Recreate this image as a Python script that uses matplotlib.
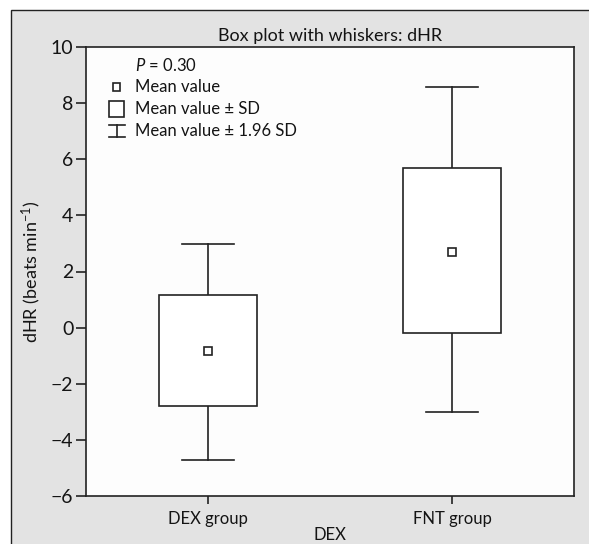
import numpy as np
import matplotlib
matplotlib.use("Agg")
import matplotlib.pyplot as plt
from matplotlib.patches import Rectangle

# data
groups = ["DEX group", "FNT group"]
means = [-0.82, 2.70]
sd_low = [-2.78, -0.18]
sd_high = [1.15, 5.70]
ci_low = [-4.70, -3.02]
ci_high = [2.97, 8.58]
y_ticks = [-6, -4, -2, 0, 2, 4, 6, 8, 10]
p_text = "0.30"

plt.rcParams['font.family'] = ['Lato', 'DejaVu Sans']
plt.rcParams['mathtext.fontset'] = 'custom'
plt.rcParams['mathtext.it'] = 'Lato:italic'
plt.rcParams['mathtext.rm'] = 'Lato'
LC = '#222222'
TC = '#141414'

fig = plt.figure(figsize=(5.89, 5.44), dpi=100)
fig.patch.set_facecolor('white')

# grey panel behind the plot
panel = Rectangle((11 / 589, -0.02), 1.0, 1 - 10 / 544 + 0.02, transform=fig.transFigure,
                  facecolor='#e3e3e3', edgecolor=LC, linewidth=1.0, zorder=-10)
fig.patches.append(panel)

ax = fig.add_axes([86 / 589, 48 / 544, (574 - 86) / 589, (496 - 47) / 544])
ax.set_facecolor('#fdfdfd')

pos = np.arange(1, len(groups) + 1)
box_w = 0.4
cap_w = 0.21
lw = 1.2
for x, m, lo, hi, wlo, whi in zip(pos, means, sd_low, sd_high, ci_low, ci_high):
    ax.add_patch(Rectangle((x - box_w / 2, lo), box_w, hi - lo, facecolor='white',
                           edgecolor=LC, linewidth=lw, zorder=2))
    ax.plot([x, x], [hi, whi], color=LC, lw=lw, zorder=1)
    ax.plot([x, x], [lo, wlo], color=LC, lw=lw, zorder=1)
    ax.plot([x - cap_w / 2, x + cap_w / 2], [whi, whi], color=LC, lw=lw)
    ax.plot([x - cap_w / 2, x + cap_w / 2], [wlo, wlo], color=LC, lw=lw)
    ax.plot(x, m, marker='s', markersize=5.5, markerfacecolor='white',
            markeredgecolor=LC, markeredgewidth=lw, zorder=3)

ax.set_xlim(0.5, 2.5)
ax.set_ylim(-6, 10)
ax.set_xticks(pos)
ax.set_xticklabels(groups, fontsize=12, color=TC)
ax.set_yticks(y_ticks)
ax.tick_params(axis='y', labelsize=14, length=7, width=lw, color=LC, pad=2, labelcolor=TC)
ax.tick_params(axis='x', length=6, width=lw, color=LC, pad=5)
for s in ax.spines.values():
    s.set_color(LC)
    s.set_linewidth(lw)

ax.set_title("Box plot with whiskers: dHR", fontsize=13, color=TC, pad=4)
ax.set_ylabel("dHR (beats min$^{-1}$)", fontsize=13, color=TC, labelpad=6)
ax.set_xlabel("DEX", fontsize=12, color=TC, labelpad=0)

# legend drawn by hand
tx = 0.100
ix = 0.063
fs = 12
ax.text(tx, 0.958, "$P$ = " + p_text, transform=ax.transAxes, fontsize=fs,
        va='center', color=TC)
ax.add_patch(Rectangle((ix - 0.007, 0.911 - 0.008), 0.014, 0.016, transform=ax.transAxes,
                       facecolor='white', edgecolor=LC, lw=lw))
ax.text(tx, 0.911, "Mean value", transform=ax.transAxes, fontsize=fs, va='center', color=TC)
ax.add_patch(Rectangle((ix - 0.015, 0.862 - 0.018), 0.030, 0.036, transform=ax.transAxes,
                       facecolor='white', edgecolor=LC, lw=lw))
ax.text(tx, 0.862, "Mean value ± SD", transform=ax.transAxes, fontsize=fs, va='center', color=TC)
ax.plot([ix, ix], [0.800, 0.826], transform=ax.transAxes, color=LC, lw=lw)
ax.plot([ix - 0.016, ix + 0.016], [0.826, 0.826], transform=ax.transAxes, color=LC, lw=lw)
ax.plot([ix - 0.016, ix + 0.016], [0.800, 0.800], transform=ax.transAxes, color=LC, lw=lw)
ax.text(tx, 0.813, "Mean value ± 1.96 SD", transform=ax.transAxes, fontsize=fs, va='center', color=TC)

plt.savefig("out.png", dpi=100)
